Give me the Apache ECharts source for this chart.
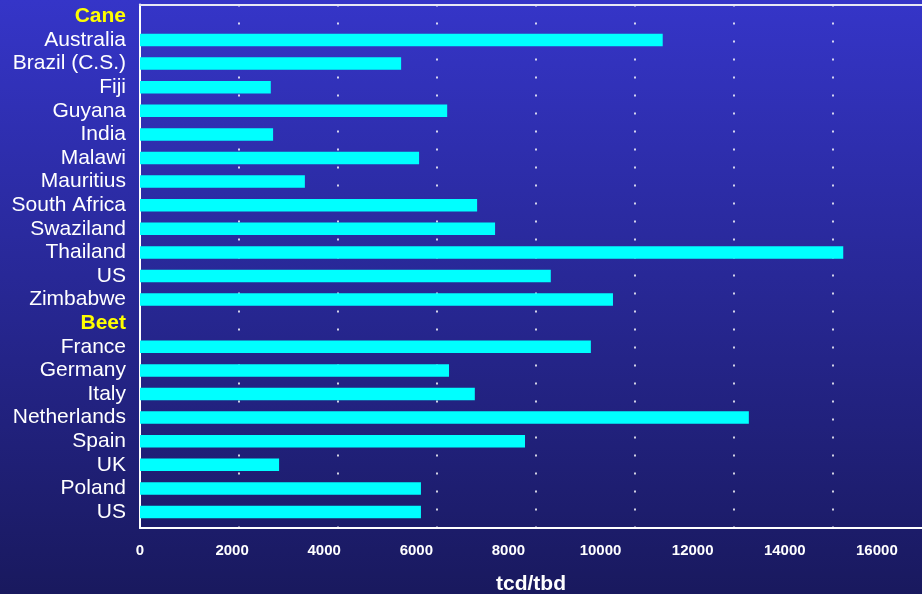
<!DOCTYPE html>
<html>
<head>
<meta charset="utf-8">
<script src="https://cdn.jsdelivr.net/npm/echarts@6/dist/echarts.min.js"></script>
<style>
  html, body { margin: 0; padding: 0; }
  #chart { width: 922px; height: 594px; }
</style>
</head>
<body>
<div id="chart"></div>
<script>
// Row labels, top to bottom; group headings have no bar
const categories = [
  'Cane', 'Australia', 'Brazil (C.S.)', 'Fiji', 'Guyana', 'India', 'Malawi',
  'Mauritius', 'South Africa', 'Swaziland', 'Thailand', 'US', 'Zimbabwe',
  'Beet', 'France', 'Germany', 'Italy', 'Netherlands', 'Spain', 'UK', 'Poland', 'US'
];
const groupHeadings = ['Cane', 'Beet'];

// Capacity in tcd/tbd (null for heading rows)
const capacity = [
  null, 11350, 5670, 2840, 6670, 2890, 6060,
  3580, 7320, 7710, 15270, 8920, 10270,
  null, 9790, 6710, 7270, 13220, 8360, 3020, 6100, 6100
];

const axisTitle = 'tcd/tbd';
const tickStep = 2000;
const lastTick = 16000;

const FONT = '"Liberation Sans", Arial, Helvetica, sans-serif';

const chart = echarts.init(document.getElementById('chart'));

chart.setOption({
  animation: false,
  backgroundColor: {
    type: 'linear', x: 0, y: 0, x2: 0, y2: 1,
    colorStops: [
      { offset: 0, color: '#3535c8' },
      { offset: 1, color: '#19195e' }
    ]
  },
  grid: [
    // bars and category labels
    { left: 140, right: 0, top: 4.6, height: 519.2, outerBoundsMode: 'none', containLabel: false },
    // frame lines and dotted reference lines
    { left: 140, right: 0, top: 4.6, bottom: 66, outerBoundsMode: 'none', containLabel: false }
  ],
  xAxis: [
    {
      type: 'value',
      gridIndex: 0,
      position: 'bottom',
      offset: 4,
      min: 0,
      max: 16980,
      interval: tickStep,
      axisLine: { show: true, onZero: false, lineStyle: { color: '#ffffff', width: 2 } },
      axisTick: { show: false },
      splitLine: { show: false },
      axisLabel: {
        color: '#ffffff',
        fontFamily: FONT,
        fontWeight: 'bold',
        fontSize: 15,
        margin: 16,
        showMaxLabel: false,
        formatter: v => (v <= lastTick ? String(v) : '')
      },
      name: axisTitle,
      nameLocation: 'middle',
      nameGap: 46,
      nameTextStyle: {
        color: '#ffffff',
        fontFamily: FONT,
        fontWeight: 'bold',
        fontSize: 21
      }
    },
    {
      type: 'value',
      gridIndex: 1,
      position: 'top',
      min: 0,
      max: 15814,
      interval: tickStep,
      axisLine: { show: true, onZero: false, lineStyle: { color: '#e8e8f4', width: 2 } },
      axisTick: { show: false },
      axisLabel: { show: false },
      splitLine: {
        show: true,
        showMinLine: false,
        showMaxLine: false,
        lineStyle: { color: '#ffffff', width: 1.6, type: [2, 16] }
      }
    }
  ],
  yAxis: [
    {
      type: 'category',
      gridIndex: 0,
      inverse: true,
      data: categories.map(c => groupHeadings.includes(c)
        ? { value: c, textStyle: { color: '#ffff00', fontWeight: 'bold' } }
        : c),
      axisLine: { show: false },
      axisTick: { show: false },
      splitLine: { show: false },
      axisLabel: {
        color: '#ffffff',
        fontFamily: FONT,
        fontSize: 21,
        margin: 14,
        interval: 0
      }
    },
    {
      type: 'value',
      gridIndex: 1,
      position: 'left',
      axisLine: { show: true, onZero: false, lineStyle: { color: '#ffffff', width: 2 } },
      axisTick: { show: false },
      axisLabel: { show: false },
      splitLine: { show: false }
    }
  ],
  series: [
    {
      type: 'bar',
      xAxisIndex: 0,
      yAxisIndex: 0,
      data: capacity.map(v => (v === null ? '-' : v)),
      barWidth: 12.5,
      itemStyle: { color: '#00ffff' },
      z: 3
    }
  ]
});
</script>
</body>
</html>
